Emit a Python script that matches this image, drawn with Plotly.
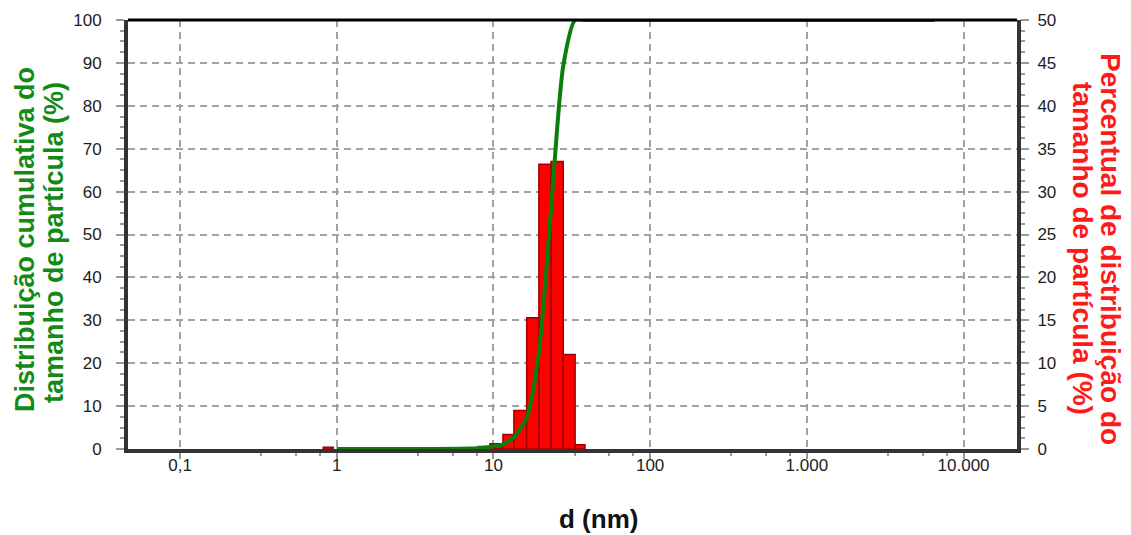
import numpy as np
import plotly.graph_objects as go

# Size classes (nm) and percentage of particles in each class
bin_lo_nm = [0.82, 8.0, 9.5, 11.5, 13.5, 16.3, 19.5, 23.3, 27.9, 33.2]
bin_hi_nm = [0.95, 9.5, 11.5, 13.5, 16.3, 19.5, 23.3, 27.9, 33.2, 38.4]
bin_pct = [0.2, 0.3, 0.6, 1.7, 4.5, 15.3, 33.2, 33.5, 11.0, 0.5]

# Cumulative size distribution (%)
cum_d_nm = [1, 8.0, 9.5, 11.5, 13.5, 16.3, 19.5, 23.3, 27.9, 33.2, 38.4, 6500]
cum_pct = [0, 0.2, 0.5, 1.1, 2.8, 7.3, 22.6, 55.8, 89.3, 100, 100, 100]

# Diameter axis ticks
x_tick_nm = [0.1, 1, 10, 100, 1000, 10000]
x_tick_text = ["0,1", "1", "10", "100", "1.000", "10.000"]
x_minor_mult = [3.3, 5.5, 7.8]

# Axis titles (one entry per line)
left_title = ["Distribuição cumulativa do", "tamanho de partícula (%)"]
right_title = ["Percentual de distribuição do", "tamanho de partícula (%)"]
x_title = "d (nm)"

FONT = "Liberation Sans, Arial, sans-serif"
GRID = "#a2a2a2"
FRAME = "#333333"
TICK = "#9a9a9a"
DASH = "7px,5px"

lo = np.log10(bin_lo_nm)
hi = np.log10(bin_hi_nm)
bar_x = (lo + hi) / 2
bar_w = hi - lo

minor_vals = [np.log10(m * t) for t in x_tick_nm for m in x_minor_mult]

fig = go.Figure()
fig.add_trace(go.Bar(
    x=bar_x, y=bin_pct, width=bar_w, yaxis="y",
    marker=dict(color="#ff0000", line=dict(color="#a00000", width=1.5)),
    showlegend=False,
))
fig.add_trace(go.Scatter(
    x=np.log10(cum_d_nm), y=cum_pct, yaxis="y2", mode="lines",
    line=dict(color="#0b7f0b", width=4, shape="spline", smoothing=0.7),
    showlegend=False,
))

# plot area in pixels: x 128..1017, y 20..449
L, R, T, B = 128, 1017, 20, 449


def px_x(p):
    return (p - L) / (R - L)


def px_y(p):
    return (B - p) / (B - T)


annotations = []
for text, cx, cy in zip(left_title, [25, 54], [240, 243]):
    annotations.append(dict(
        text=f"<b>{text}</b>", xref="paper", yref="paper",
        x=px_x(cx), y=px_y(cy), textangle=-90,
        xanchor="center", yanchor="middle", showarrow=False,
        font=dict(family=FONT, size=27, color="#138a13")))
for text, cx, cy in zip(right_title, [1111, 1083], [249, 248]):
    annotations.append(dict(
        text=f"<b>{text}</b>", xref="paper", yref="paper",
        x=px_x(cx), y=px_y(cy), textangle=90,
        xanchor="center", yanchor="middle", showarrow=False,
        font=dict(family=FONT, size=28, color="#ff1a1a")))
annotations.append(dict(
    text=f"<b>{x_title}</b>", xref="paper", yref="paper",
    x=px_x(598), y=px_y(519), xanchor="center", yanchor="middle",
    showarrow=False, borderpad=0,
    font=dict(family=FONT, size=26, color="#111111")))

fig.update_layout(
    width=1131, height=535,
    margin=dict(l=L, r=1131 - R, t=T, b=535 - B),
    paper_bgcolor="white", plot_bgcolor="white",
    font=dict(family=FONT, size=17, color="#1c1c1c"),
    xaxis=dict(
        range=[-1.332, 4.341],
        tickmode="array", tickvals=np.log10(x_tick_nm), ticktext=x_tick_text,
        showgrid=True, gridcolor=GRID, griddash=DASH, gridwidth=2,
        showline=True, linecolor=FRAME, linewidth=4,
        ticks="outside", ticklen=6, tickwidth=2, tickcolor=TICK,
        ticklabelstandoff=-8,
        minor=dict(tickmode="array", tickvals=minor_vals, ticks="outside",
                   ticklen=3, tickwidth=2, tickcolor=TICK, showgrid=False),
        zeroline=False,
    ),
    yaxis=dict(
        side="right", range=[0, 50],
        tickmode="linear", tick0=0, dtick=5,
        showgrid=True, gridcolor=GRID, griddash=DASH, gridwidth=2,
        showline=True, linecolor=FRAME, linewidth=4,
        ticks="outside", ticklen=8, tickwidth=2, tickcolor=TICK,
        ticklabelstandoff=5,
        minor=dict(dtick=1.25, ticks="outside", ticklen=4, tickwidth=2,
                   tickcolor=TICK, showgrid=False),
        zeroline=False,
    ),
    yaxis2=dict(
        side="left", overlaying="y", range=[0, 100],
        tickmode="linear", tick0=0, dtick=10,
        showgrid=False,
        showline=True, linecolor=FRAME, linewidth=4,
        ticks="outside", ticklen=8, tickwidth=2, tickcolor=TICK,
        ticklabelstandoff=11,
        minor=dict(dtick=2.5, ticks="outside", ticklen=4, tickwidth=2,
                   tickcolor=TICK, showgrid=False),
        zeroline=False,
    ),
    shapes=[dict(type="line", xref="paper", yref="paper", x0=0, x1=1, y0=1, y1=1,
                 line=dict(color="black", width=3))],
    annotations=annotations,
)

fig.write_html("out.html")
